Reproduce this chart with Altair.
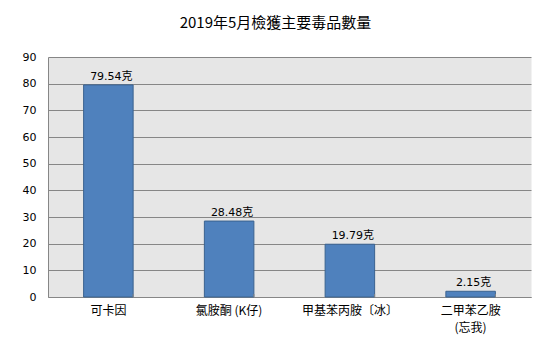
import altair as alt
import pandas as pd

categories = ["可卡因", "氯胺酮 (K仔)", "甲基苯丙胺〔冰〕", "二甲苯乙胺\n(忘我)"]
values = [79.54, 28.48, 19.79, 2.15]
value_labels = ["79.54克", "28.48克", "19.79克", "2.15克"]
y_ticks = [0, 10, 20, 30, 40, 50, 60, 70, 80, 90]

df = pd.DataFrame({"cat": categories, "val": values, "lab": value_labels})

cjk = "Noto Sans CJK TC"
num = "'DejaVu Sans', 'Noto Sans CJK TC'"

x_axis = alt.Axis(title=None, labelAngle=0, ticks=False, labelPadding=8,
                  labelFont=cjk, labelFontSize=12, labelColor="#000000",
                  labelExpr="split(datum.label, '\\n')", labelLineHeight=17,
                  domainColor="#868686", labelLimit=200)
x_scale = alt.Scale(paddingInner=0.59, paddingOuter=0.295)
y_axis = alt.Axis(title=None, values=y_ticks, ticks=False, labelPadding=12,
                  labelOverlap=False,
                  labelFont="DejaVu Sans", labelFontSize=11, labelColor="#000000",
                  gridColor="#868686", gridOpacity=1, domainColor="#868686")
y_scale = alt.Scale(domain=[0, 90])

x_enc = alt.X("cat:N", sort=categories, scale=x_scale, axis=x_axis)
y_enc = alt.Y("val:Q", scale=y_scale, axis=y_axis)

bars = alt.Chart(df).mark_bar(color="#4f81bd", stroke="#3a628f", strokeWidth=1).encode(
    x=x_enc, y=y_enc)

text = alt.Chart(df).mark_text(baseline="bottom", dy=-3, dx=3, font=num, fontSize=11,
                               color="#000000").encode(
    x=x_enc, y=y_enc, text="lab:N")

ticks = alt.Chart(df).mark_rule(color="#868686").encode(
    x=alt.X("cat:N", sort=categories, bandPosition=1, scale=x_scale, axis=x_axis),
    y=alt.Y(datum=0, scale=y_scale, axis=y_axis, type="quantitative"),
    y2=alt.Y2(datum=1.1))

chart = alt.layer(bars, ticks, text).properties(
    width=483, height=240,
    title=alt.TitleParams("2019年5月檢獲主要毒品數量", font=cjk, fontSize=15,
                          fontWeight="normal", color="#000000", anchor="middle",
                          dx=-14, offset=20),
    autosize=alt.AutoSizeParams(type="none"),
    padding={"left": 48, "top": 57, "right": 19, "bottom": 57},
).configure_view(fill="#e6e6e6", stroke="transparent")

chart.save("out.html", embed_options={"renderer": "svg", "actions": False})
